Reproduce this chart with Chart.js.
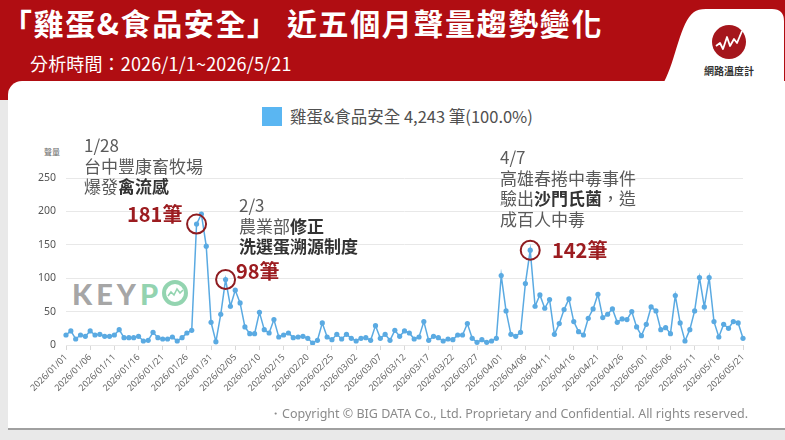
<!DOCTYPE html>
<html><head><meta charset="utf-8">
<script src="https://cdn.jsdelivr.net/npm/chart.js@4.4.1/dist/chart.umd.min.js"></script>
<style>
html,body{margin:0;padding:0;}
body{width:785px;height:440px;position:relative;overflow:hidden;background:#e9e9e9;font-family:"Noto Sans CJK TC","Noto Sans",sans-serif;}
#header{position:absolute;left:0;top:0;width:785px;height:100px;background:#b00d12;}
#panel{position:absolute;left:8px;top:81px;width:777px;height:347px;background:#fff;border-top-left-radius:14px;border-bottom:2px solid #a0a0a0;}
#title{position:absolute;left:2px;top:5px;color:#fff;font-weight:700;font-size:30px;line-height:34px;letter-spacing:1.6px;white-space:nowrap;}
#sub{position:absolute;left:30px;top:52px;color:#fff;font-size:18px;line-height:22px;white-space:nowrap;letter-spacing:0.15px;}
#tab{position:absolute;left:0;top:0;}
#brand{position:absolute;left:689px;top:64px;width:80px;text-align:center;font-size:10px;font-weight:700;color:#333;line-height:14px;}
#legend{position:absolute;left:262px;top:106px;height:20px;display:flex;align-items:center;white-space:nowrap;}
#legend .box{width:20px;height:19px;background:#5ab6f2;margin-right:8px;}
#legend .txt{font-size:16.5px;color:#505050;line-height:20px;}
#ytitle{position:absolute;left:44px;top:147px;font-size:8px;color:#666;line-height:10px;}
.ann{position:absolute;font-size:17px;line-height:20.5px;color:#5a5a5a;white-space:nowrap;}
.ann b{color:#333;font-weight:700;}
.cnt{position:absolute;font-size:20px;line-height:22px;font-weight:700;color:#9c1c20;white-space:nowrap;}
#keypo{position:absolute;left:72px;top:277px;font-family:Lato,"Noto Sans",sans-serif;font-weight:900;font-size:29px;line-height:34px;letter-spacing:4px;white-space:nowrap;}
#keypo .g{color:rgba(150,150,150,0.85);}
#keypo .m{color:rgba(128,204,162,0.85);}
#keyo{position:absolute;left:160px;top:278px;}
#copy{position:absolute;right:37px;top:405px;font-family:"Noto Sans",sans-serif;font-size:12.5px;color:#8a8a8a;white-space:nowrap;line-height:18px;}
#chart{position:absolute;left:0;top:140px;}
</style></head>
<body>
<div id="header"></div>
<div id="panel"></div>
<svg id="tab" width="785" height="100">
  <path d="M664 82 C676 60 680 22 694 12 Q698 9 706 9 L772 9 Q784 9 784 21 L784 82 Z" fill="#fff"/>
  <circle cx="729" cy="42" r="17" fill="#a5161c"/>
  <polyline points="716,46 720,43 723,49 727,37 730,46 734,39 737,43 742,31" fill="none" stroke="#fff" stroke-width="1.8" stroke-linejoin="round"/>
</svg>
<div id="brand">網路溫度計</div>
<div id="title">「雞蛋&amp;食品安全」 近五個月聲量趨勢變化</div>
<div id="sub">分析時間：2026/1/1~2026/5/21</div>
<div id="legend"><div class="box"></div><div class="txt" id="legendText"></div></div>
<div id="ytitle">聲量</div>
<div id="keypo"><span class="g">KEY</span><span class="m">P</span></div>
<svg id="keyo" width="32" height="32">
  <circle cx="15" cy="15" r="11" fill="none" stroke="rgba(128,204,162,0.85)" stroke-width="4"/>
  <polyline points="8,18 11,14 14,17 17,11 20,15 23,12" fill="none" stroke="rgba(128,204,162,0.85)" stroke-width="1.6"/>
</svg>
<canvas id="chart" width="785" height="270"></canvas>
<div class="ann" style="left:84px;top:135px;">1/28<br>台中豐康畜牧場<br>爆發<b>禽流感</b></div>
<div class="cnt" style="left:127px;top:203px;">181筆</div>
<div class="ann" style="left:239px;top:195px;">2/3<br>農業部<b>修正</b><br><b>洗選蛋溯源制度</b></div>
<div class="cnt" style="left:236px;top:260px;">98筆</div>
<div class="ann" style="left:500px;top:147px;">4/7<br>高雄春捲中毒事件<br>驗出<b>沙門氏菌</b>，造<br>成百人中毒</div>
<div class="cnt" style="left:552px;top:239px;">142筆</div>
<div id="copy">・Copyright © BIG DATA Co., Ltd. Proprietary and Confidential. All rights reserved.</div>
<script>
const seriesName = "雞蛋&食品安全";
const totalText = "4,243 筆(100.0%)";
const datesJan = ["2026/01/01","2026/01/02","2026/01/03","2026/01/04","2026/01/05","2026/01/06","2026/01/07","2026/01/08","2026/01/09","2026/01/10","2026/01/11","2026/01/12","2026/01/13","2026/01/14","2026/01/15","2026/01/16","2026/01/17","2026/01/18","2026/01/19","2026/01/20","2026/01/21","2026/01/22","2026/01/23","2026/01/24","2026/01/25","2026/01/26","2026/01/27","2026/01/28","2026/01/29","2026/01/30","2026/01/31"];
const datesFeb = ["2026/02/01","2026/02/02","2026/02/03","2026/02/04","2026/02/05","2026/02/06","2026/02/07","2026/02/08","2026/02/09","2026/02/10","2026/02/11","2026/02/12","2026/02/13","2026/02/14","2026/02/15","2026/02/16","2026/02/17","2026/02/18","2026/02/19","2026/02/20","2026/02/21","2026/02/22","2026/02/23","2026/02/24","2026/02/25","2026/02/26","2026/02/27","2026/02/28"];
const datesMar = ["2026/03/01","2026/03/02","2026/03/03","2026/03/04","2026/03/05","2026/03/06","2026/03/07","2026/03/08","2026/03/09","2026/03/10","2026/03/11","2026/03/12","2026/03/13","2026/03/14","2026/03/15","2026/03/16","2026/03/17","2026/03/18","2026/03/19","2026/03/20","2026/03/21","2026/03/22","2026/03/23","2026/03/24","2026/03/25","2026/03/26","2026/03/27","2026/03/28","2026/03/29","2026/03/30","2026/03/31"];
const datesApr = ["2026/04/01","2026/04/02","2026/04/03","2026/04/04","2026/04/05","2026/04/06","2026/04/07","2026/04/08","2026/04/09","2026/04/10","2026/04/11","2026/04/12","2026/04/13","2026/04/14","2026/04/15","2026/04/16","2026/04/17","2026/04/18","2026/04/19","2026/04/20","2026/04/21","2026/04/22","2026/04/23","2026/04/24","2026/04/25","2026/04/26","2026/04/27","2026/04/28","2026/04/29","2026/04/30"];
const datesMay = ["2026/05/01","2026/05/02","2026/05/03","2026/05/04","2026/05/05","2026/05/06","2026/05/07","2026/05/08","2026/05/09","2026/05/10","2026/05/11","2026/05/12","2026/05/13","2026/05/14","2026/05/15","2026/05/16","2026/05/17","2026/05/18","2026/05/19","2026/05/20","2026/05/21"];
const valuesJan = [15,21,9,15,13,21,15,16,13,13,15,23,11,11,11,13,6,7,19,11,9,9,12,6,11,18,22,181,196,148,34];
const valuesFeb = [5,46,98,58,82,63,27,17,17,49,23,18,38,12,15,18,11,12,13,10,3,7,33,12,8,16,9,16];
const valuesMar = [10,6,10,11,7,29,10,16,7,22,13,21,18,9,12,35,7,13,11,6,9,8,15,15,32,10,4,8,4,6,10];
const valuesApr = [104,51,16,13,19,92,142,58,75,55,68,16,32,53,69,35,20,15,40,54,76,41,46,54,34,39,38,50,27,14];
const valuesMay = [31,57,51,23,26,17,74,33,6,23,51,101,57,101,35,12,31,25,35,33,10];
const yTicks = [0,50,100,150,200,250];
const highlightDates = ["2026/01/28","2026/02/03","2026/04/07"];

const labels = [].concat(datesJan, datesFeb, datesMar, datesApr, datesMay);
const values = [].concat(valuesJan, valuesFeb, valuesMar, valuesApr, valuesMay);
document.getElementById('legendText').textContent = seriesName + " " + totalText;

const circlePlugin = {
  id: 'circles',
  afterDatasetsDraw(chart) {
    const ctx = chart.ctx, xs = chart.scales.x, ys = chart.scales.y;
    ctx.save();
    ctx.strokeStyle = '#8e1c20';
    ctx.lineWidth = 2;
    highlightDates.forEach(d => {
      const i = labels.indexOf(d);
      const x = xs.getPixelForValue(i), y = ys.getPixelForValue(values[i]);
      ctx.beginPath();
      ctx.arc(x, y, 9.5, 0, Math.PI * 2);
      ctx.stroke();
    });
    ctx.restore();
  }
};

new Chart(document.getElementById('chart'), {
  type: 'line',
  data: { labels, datasets: [{
    label: seriesName, data: values,
    borderColor: '#5aaae2', backgroundColor: '#5aaae2',
    borderWidth: 1.5, pointRadius: 2.6, pointBorderWidth: 0,
    pointBackgroundColor: '#5aaae2', tension: 0, fill: false
  }]},
  options: {
    responsive: false, animation: false,
    layout: { padding: { top: 38, right: 42, left: 0, bottom: 0 } },
    plugins: { legend: { display: false }, tooltip: { enabled: false } },
    scales: {
      x: {
        offset: false,
        afterFit: s => { s.height = 65; },
        border: { display: false },
        grid: { drawOnChartArea: false, drawTicks: true, tickLength: 5,
          color: c => (c.index % 5 === 0 ? '#d8d8d8' : 'rgba(0,0,0,0)') },
        ticks: { autoSkip: false, minRotation: 45, maxRotation: 45, padding: 2,
          color: '#666', font: { family: '"Noto Sans", sans-serif', size: 9 },
          callback: (v, i) => (i % 5 === 0 ? labels[i] : '') }
      },
      y: {
        min: 0, max: 250,
        afterFit: s => { s.width = 66; },
        afterBuildTicks: s => { s.ticks = yTicks.map(v => ({ value: v })); },
        border: { display: false },
        grid: { color: '#e8e8e8', drawTicks: false },
        ticks: { padding: 10, color: '#555', font: { family: '"Noto Sans", sans-serif', size: 10.5 } }
      }
    }
  },
  plugins: [circlePlugin]
});
</script>
</body></html>
